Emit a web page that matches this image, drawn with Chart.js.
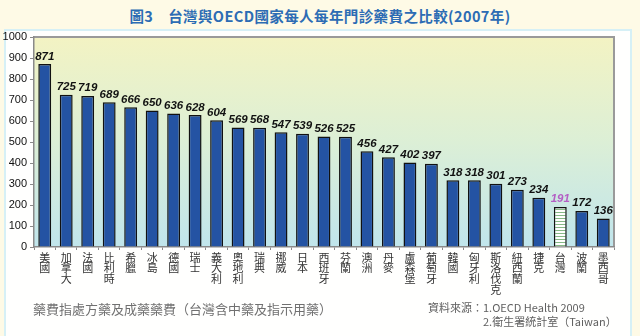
<!DOCTYPE html>
<html>
<head>
<meta charset="utf-8">
<script src="https://cdn.jsdelivr.net/npm/chart.js@4"></script>
<style>
  html, body { margin: 0; padding: 0; }
  body { width: 640px; height: 336px; background: #fefae6; position: relative; overflow: hidden;
         font-family: "Noto Sans CJK TC", "Noto Sans", sans-serif; }
  #box { position: absolute; left: 4px; top: 29px; width: 624px; height: 320px;
         background: #fffffe; border: 2px solid #d6f0f6; }
  #title { position: absolute; left: 0; width: 640px; top: 5px; text-align: center;
           color: #2c6cb4; font-size: 14.5px; font-weight: bold; letter-spacing: 0.4px; }
  #wrap { position: absolute; left: 0; top: 0; width: 640px; height: 336px; }
  .note { position: absolute; color: #707070; font-size: 13px; white-space: nowrap; }
  .src { position: absolute; color: #606060; font-size: 11px; white-space: nowrap; }
</style>
</head>
<body>
<div id="box"></div>
<div id="title">圖3　台灣與OECD國家每人每年門診藥費之比較(2007年)</div>
<div id="wrap"><canvas id="c" width="640" height="336"></canvas></div>
<div class="note" style="left:33px; top:299px;">藥費指處方藥及成藥藥費（台灣含中藥及指示用藥）</div>
<div class="src" style="left:428px; top:299px;">資料來源：1.OECD Health 2009</div>
<div class="src" style="left:483px; top:313px;">2.衛生署統計室（Taiwan）</div>

<script>
"use strict";

// Values.
const countries = ["美國", "加拿大", "法國", "比利時", "希臘", "冰島", "德國", "瑞士", "義大利", "奧地利",
  "瑞典", "挪威", "日本", "西班牙", "芬蘭", "澳洲", "丹麥", "盧森堡", "葡萄牙", "韓國",
  "匈牙利", "斯洛伐克", "紐西蘭", "捷克", "台灣", "波蘭", "墨西哥"];
const spending = [871, 725, 719, 689, 666, 650, 636, 628, 604, 569,
  568, 547, 539, 526, 525, 456, 427, 402, 397, 318,
  318, 301, 273, 234, 191, 172, 136];
const yTicks = [0, 100, 200, 300, 400, 500, 600, 700, 800, 900, 1000];
const highlight = "台灣";

// ---------------------------------------------------------------------------
// styling helpers
// ---------------------------------------------------------------------------
function stripePattern() {
  const p = document.createElement("canvas");
  p.width = 4; p.height = 3;
  const g = p.getContext("2d");
  g.fillStyle = "#ffffff";
  g.fillRect(0, 0, 4, 3);
  g.fillStyle = "#86b886";
  g.fillRect(0, 2, 4, 1);
  return g.createPattern(p, "repeat");
}

const plotBg = {
  id: "plotBg",
  beforeDraw(chart) {
    const { ctx, chartArea: a } = chart;
    const grad = ctx.createLinearGradient(0, a.top, 0, a.bottom);
    grad.addColorStop(0, "#f3f3c3");
    grad.addColorStop(0.5, "#dcefd6");
    grad.addColorStop(1, "#c0e5ec");
    ctx.save();
    ctx.fillStyle = grad;
    ctx.fillRect(a.left, a.top, a.right - a.left, a.bottom - a.top);
    ctx.strokeStyle = "#9a9a9a";
    ctx.lineWidth = 2;
    ctx.beginPath();
    ctx.moveTo(a.left, a.top);
    ctx.lineTo(a.right, a.top);
    ctx.lineTo(a.right, a.bottom);
    ctx.stroke();
    ctx.restore();
  },
};

const valueLabels = {
  id: "valueLabels",
  afterDatasetsDraw(chart) {
    const { ctx } = chart;
    const meta = chart.getDatasetMeta(0);
    ctx.save();
    ctx.font = "italic bold 11.5px Arial, 'Liberation Sans', sans-serif";
    ctx.textAlign = "center";
    ctx.textBaseline = "bottom";
    meta.data.forEach((bar, i) => {
      ctx.fillStyle = countries[i] === highlight ? "#b45fc4" : "#111111";
      ctx.fillText(String(spending[i]), bar.x, bar.y - 2);
    });
    ctx.restore();
  },
};

// ---------------------------------------------------------------------------
// chart
// ---------------------------------------------------------------------------
const pattern = stripePattern();

new Chart(document.getElementById("c"), {
  type: "bar",
  data: {
    labels: countries.map((c) => c.split("")),
    datasets: [{
      data: spending,
      backgroundColor: countries.map((c) => c === highlight ? pattern : "#2453a3"),
      borderColor: "#111111",
      borderWidth: 1.5,
      borderSkipped: "bottom",
      barPercentage: 0.6,
      categoryPercentage: 1,
    }],
  },
  options: {
    responsive: false,
    animation: false,
    layout: { padding: { top: 37, right: 26, left: 0, bottom: 0 } },
    plugins: { legend: { display: false }, tooltip: { enabled: false } },
    scales: {
      x: {
        offset: true,
        grid: { display: true, drawOnChartArea: false, offset: true, tickLength: 3, color: "#8a8a8a" },
        border: { color: "#8a8a8a", width: 1.5 },
        ticks: {
          autoSkip: false, maxRotation: 0, minRotation: 0, padding: 2,
          color: "#333333",
          font: { size: 11, lineHeight: 0.97, family: "'Noto Sans CJK TC', sans-serif" },
        },
        afterFit(scale) { scale.height = 89; },
      },
      y: {
        min: 0, max: 1000,
        afterBuildTicks(scale) { scale.ticks = yTicks.map((v) => ({ value: v })); },
        grid: { display: true, drawOnChartArea: false, tickLength: 4, color: "#8a8a8a" },
        border: { color: "#8a8a8a", width: 1.5 },
        ticks: {
          padding: 3, color: "#111111",
          font: { size: 11, family: "Arial, 'Liberation Sans', sans-serif" },
          callback: (v) => String(v),
        },
        afterFit(scale) { scale.width = 34; },
      },
    },
  },
  plugins: [plotBg, valueLabels],
});
</script>
</body>
</html>
